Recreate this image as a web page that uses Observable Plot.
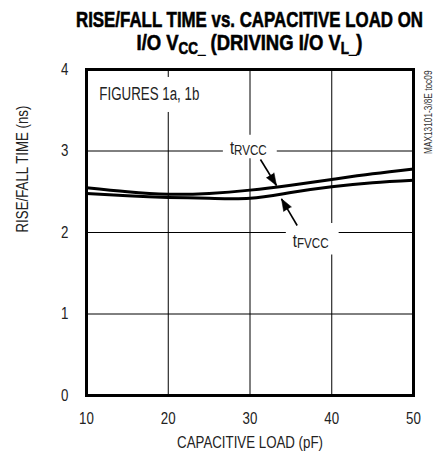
<!DOCTYPE html>
<html>
<head>
<meta charset="utf-8">
<script src="https://cdn.jsdelivr.net/npm/d3@7"></script>
<script src="https://cdn.jsdelivr.net/npm/@observablehq/plot@0.6"></script>
<style>
  html, body { margin: 0; padding: 0; background: #fff; }
</style>
</head>
<body>
<div id="chart"></div>
<script>
const FONT = "'Liberation Sans', Arial, sans-serif";
const NARROW = 0.83; // emulate a condensed face

// Data
const capLoad = [10, 15, 20, 25, 30, 35, 40, 45, 50];
const tRVCC   = [2.55, 2.50, 2.47, 2.48, 2.52, 2.58, 2.65, 2.72, 2.78];
const tFVCC   = [2.48, 2.45, 2.43, 2.42, 2.42, 2.49, 2.56, 2.61, 2.64];

const xTicks = [10, 20, 30, 40, 50];
const yTicks = [0, 1, 2, 3, 4];
const xGrid = [20, 30, 40];
const yGrid = [1, 2, 3];

const titleLine1 = "RISE/FALL TIME vs. CAPACITIVE LOAD ON";
const xLabel = "CAPACITIVE LOAD (pF)";
const yLabel = "RISE/FALL TIME (ns)";
const docId = "MAX13101-3/8E toc09";

// Annotations (data units)
const arrows = [
  {x1: 31.28, y1: 2.896, x2: 33.24, y2: 2.577},
  {x1: 35.77, y1: 2.086, x2: 33.85, y2: 2.413}
];
const curveLabels = [
  {main: "t", sub: "RVCC", x: 27.6, y: 2.96, padTop: 3, padBottom: 0},
  {main: "t", sub: "FVCC", x: 35.3, y: 1.816, padTop: 8, padBottom: 3}
];
const noteLabel = {text: "FIGURES 1a, 1b", x: 11.63, y: 3.62};

const W = 435, H = 454, ML = 86, MR = 22, MT = 69, MB = 59;
const kx = (W - ML - MR) / 40, ky = (H - MT - MB) / 4;
arrows.forEach(a => {
  a.angle = Math.atan2((a.x2 - a.x1) * kx, (a.y2 - a.y1) * ky) * 180 / Math.PI;
});

const rise = capLoad.map((c, i) => ({cap: c, t: tRVCC[i]}));
const fall = capLoad.map((c, i) => ({cap: c, t: tFVCC[i]}));

const plot = Plot.plot({
  width: W, height: H,
  marginLeft: ML, marginRight: MR, marginTop: MT, marginBottom: MB,
  style: {fontFamily: FONT, fontSize: "16px", color: "#222", background: "#fff", overflow: "visible"},
  x: {domain: [10, 50]},
  y: {domain: [0, 4]},
  marks: [
    Plot.gridX(xGrid, {stroke: "#000", strokeOpacity: 1, strokeWidth: 1}),
    Plot.gridY(yGrid, {stroke: "#000", strokeOpacity: 1, strokeWidth: 1}),
    Plot.axisX(xTicks, {tickSize: 0, tickPadding: 17, label: null, fontSize: 16, fill: "#222", tickFormat: d3.format("d")}),
    Plot.axisY(yTicks, {tickSize: 0, tickPadding: 18, label: null, fontSize: 16, fill: "#222", tickFormat: d3.format("d")}),
    Plot.frame({stroke: "#000", strokeWidth: 3}),
    Plot.text([xLabel], {frameAnchor: "bottom", dy: 52, fontSize: 16, fill: "#222"}),
    Plot.text([yLabel], {frameAnchor: "left", rotate: -90, dx: -63.5, fontSize: 16, fill: "#222"}),
    Plot.text([docId], {frameAnchor: "top-right", dx: 11, dy: 1, rotate: -90, textAnchor: "end", fontSize: 10, fill: "#333"})
  ]
});
document.getElementById("chart").appendChild(plot);

const svg = d3.select(plot);
const sx = plot.scale("x"), sy = plot.scale("y");

// compress all plot texts to a narrow width
svg.selectAll("text").each(function() {
  const len = this.getComputedTextLength();
  if (len > 0) d3.select(this).attr("textLength", len * NARROW).attr("lengthAdjust", "spacingAndGlyphs");
});

// Labels with white boxes (placed above grid)
function addLabel(build, padLeft, padRight, padTop, padBottom, width) {
  const g = svg.append("g");
  const t = g.append("text").attr("font-family", FONT).attr("fill", "#222").attr("text-anchor", "start");
  build(t);
  const len = t.node().getComputedTextLength();
  t.attr("textLength", width || len * NARROW).attr("lengthAdjust", "spacingAndGlyphs");
  const bb = t.node().getBBox();
  g.insert("rect", "text")
    .attr("x", bb.x - padLeft).attr("y", bb.y - padTop)
    .attr("width", bb.width + padLeft + padRight).attr("height", bb.height + padTop + padBottom)
    .attr("fill", "#fff");
}
addLabel(t => {
  t.attr("x", sx.apply(noteLabel.x)).attr("y", sy.apply(noteLabel.y))
   .attr("font-size", 18).text(noteLabel.text);
}, 5, 5, 7, 8, 100);
curveLabels.forEach(l => {
  addLabel(t => {
    t.attr("x", sx.apply(l.x)).attr("y", sy.apply(l.y)).attr("font-size", 18);
    t.append("tspan").text(l.main);
    t.append("tspan").attr("font-size", 14).attr("dy", 1.5).text(l.sub);
  }, 7, 10, l.padTop, l.padBottom);
});

// Curves and arrows drawn on top via a second Plot using the same scales
const overlay = Plot.plot({
  width: W, height: H,
  marginLeft: ML, marginRight: MR, marginTop: MT, marginBottom: MB,
  x: {domain: [10, 50]},
  y: {domain: [0, 4]},
  axis: null,
  marks: [
    Plot.line(rise, {x: "cap", y: "t", curve: "natural", stroke: "#000", strokeWidth: 3}),
    Plot.line(fall, {x: "cap", y: "t", curve: "natural", stroke: "#000", strokeWidth: 3}),
    Plot.link(arrows, {x1: "x1", y1: "y1", x2: "x2", y2: "y2", stroke: "#000", strokeWidth: 1.6}),
    Plot.vector(arrows, {x: "x2", y: "y2", rotate: "angle", length: 12, r: 4.5, shape: "spike", anchor: "end", fill: "#000", stroke: "#000", strokeWidth: 0.5})
  ]
});
d3.select(overlay).selectAll(":scope > g").each(function() {
  plot.appendChild(this);
});

// Title
const title = svg.append("g").attr("font-family", FONT).attr("font-weight", "bold")
  .attr("fill", "#000").attr("stroke", "#000").attr("stroke-width", 0.6);
const cx = (ML + W - MR) / 2;
title.append("text").attr("x", cx).attr("y", 27).attr("text-anchor", "middle")
  .attr("font-size", 22).attr("textLength", 347).attr("lengthAdjust", "spacingAndGlyphs")
  .text(titleLine1);
const l2 = title.append("text").attr("x", cx).attr("y", 50).attr("text-anchor", "middle")
  .attr("font-size", 22).attr("textLength", 226).attr("lengthAdjust", "spacingAndGlyphs");
l2.append("tspan").text("I/O V");
l2.append("tspan").attr("font-size", 16).attr("dy", 4).text("CC_");
l2.append("tspan").attr("dy", -4).text(" (DRIVING I/O V");
l2.append("tspan").attr("font-size", 16).attr("dy", 4).text("L_");
l2.append("tspan").attr("dy", -4).text(")");
</script>
</body>
</html>
